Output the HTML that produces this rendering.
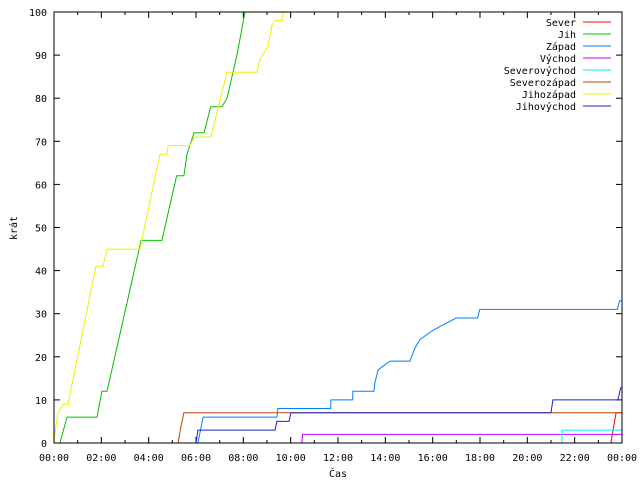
<!DOCTYPE html>
<html><head><meta charset="utf-8"><style>
body{margin:0;background:#fff}
svg text{font-family:"DejaVu Sans Mono","Liberation Mono",monospace;font-size:10px;fill:#000}
</style></head><body>
<svg id="chart" width="640" height="480" xmlns="http://www.w3.org/2000/svg"></svg>
<script>
const names=["Sever","Jih","Západ","Východ","Severovýchod","Severozápad","Jihozápad","Jihovýchod"];
const colors=["#ff0000","#00c000","#0080ff","#c000ff","#00eeee","#c04000","#eeee00","#2020c0"];
const yTicks=[0,10,20,30,40,50,60,70,80,90,100];
const xTickLabels=["00:00","02:00","04:00","06:00","08:00","10:00","12:00","14:00","16:00","18:00","20:00","22:00","00:00"];
const severT=[23.53,23.62,23.75,24];
const severV=[0,3,7,7];
const jihT=[0.25,0.55,1.82,2.02,2.24,3.68,4.56,5.18,5.49,5.62,5.92,6.34,6.62,7.1,7.31,7.52,7.73,7.9,8.07];
const jihV=[0,6,6,12,12,47,47,62,62,67,72,72,78,78,80,85,90,95,100];
const zapadT=[6.08,6.3,9.42,9.46,11.69,11.7,12.62,12.63,13.52,13.56,13.7,14.2,15.04,15.25,15.46,15.97,16.3,16.99,17.9,17.99,23.8,23.9,24];
const zapadV=[0,6,6,8,8,10,10,12,12,14,17,19,19,22,24,26,27,29,29,31,31,33,33];
const vychodT=[10.47,10.5,24];
const vychodV=[0,2,2];
const severovychodT=[21.45,21.48,24];
const severovychodV=[0,3,3];
const severozapadT=[5.24,5.37,5.49,24];
const severozapadV=[0,4,7,7];
const jihozapadT=[0,0.08,0.17,0.38,0.59,1.77,2.07,2.24,3.63,4.48,4.77,4.82,5.75,5.92,6.63,7.31,8.58,8.7,9.04,9.21,9.34,9.63,9.68];
const jihozapadV=[0,4,7,9,9,41,41,45,45,67,67,69,69,71,71,86,86,89,92,97,98,98,100];
const jihovychodT=[6.0,6.08,9.34,9.42,9.93,10.01,21.0,21.08,23.83,23.91,23.96];
const jihovychodV=[0,3,3,5,5,7,7,10,10,12,13];
const seriesT=[severT,jihT,zapadT,vychodT,severovychodT,severozapadT,jihozapadT,jihovychodT];
const seriesV=[severV,jihV,zapadV,vychodV,severovychodV,severozapadV,jihozapadV,jihovychodV];

const L=54,R=622,T=12,B=443;
const x=h=>L+h*(R-L)/24;
const y=v=>B-v*(B-T)/100;
const svg=document.getElementById('chart');
const NS="http://www.w3.org/2000/svg";
function mk(tag,attrs,parent){const e=document.createElementNS(NS,tag);for(const k in attrs)e.setAttribute(k,attrs[k]);(parent||svg).appendChild(e);return e;}

yTicks.forEach(v=>{
  const t=mk('line',{x1:L,x2:L+6,y1:y(v),y2:y(v),stroke:'#000'});
  
  
  const t2=mk('line',{x1:R,x2:R-6,y1:y(v),y2:y(v),stroke:'#000'});
  
  
  const lb=mk('text',{x:47,y:y(v)+4,'text-anchor':'end'});
  lb.textContent=v;
  
  
});
for(let h=0;h<=24;h++){
  const len=h%2===0?6:3;
  const t=mk('line',{x1:x(h),x2:x(h),y1:B,y2:B-len,stroke:'#000'});
  
  
  const t2=mk('line',{x1:x(h),x2:x(h),y1:T,y2:T+len,stroke:'#000'});
  
  
}
xTickLabels.forEach((s,i)=>{
  const lb=mk('text',{x:x(i*2),y:461,'text-anchor':'middle'});
  lb.textContent=s;
  
  
});

seriesT.forEach((ts,i)=>{
  const pts=ts.map((t,j)=>x(t).toFixed(1)+','+y(seriesV[i][j]).toFixed(1)).join(' ');
  const pl=mk('polyline',{points:pts,fill:'none',stroke:colors[i],'stroke-width':1});
  
  
  const ly=22+i*12;
  const lt=mk('text',{x:576,y:ly+4,'text-anchor':'end'});
  lt.textContent=names[i];
  
  
  const ll=mk('line',{x1:583,x2:611,y1:ly,y2:ly,stroke:colors[i]});
  
  
});

const frame=mk('rect',{x:L,y:T,width:R-L,height:B-T,fill:'none',stroke:'#000'});


const xt=mk('text',{x:338,y:477,'text-anchor':'middle'});
xt.textContent='Čas';


const yt=mk('text',{x:0,y:0,'text-anchor':'middle',transform:'translate(17,228) rotate(-90)'});
yt.textContent='krát';


</script>
</body></html>
